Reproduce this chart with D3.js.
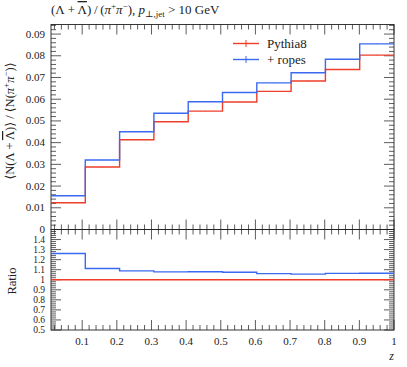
<!DOCTYPE html>
<html><head><meta charset="utf-8">
<script src="https://cdn.jsdelivr.net/npm/d3@7"></script>
<style>
body{margin:0;background:#fff;}
svg{display:block;font-family:"Liberation Serif","DejaVu Serif",serif;}
.ol{text-decoration:overline;}
</style></head>
<body>
<script>
// ---- data ----
const binEdges = [0.01,0.109,0.208,0.307,0.406,0.505,0.604,0.703,0.802,0.901,1.0];
const pythia8 = [0.01234,0.02877,0.04135,0.0496,0.0545,0.0587,0.0636,0.0684,0.0737,0.0803];
const ropes   = [0.01556,0.0320,0.0450,0.0535,0.0588,0.0631,0.0675,0.0722,0.0784,0.0855];
const pythia8Err = [0.00008,0.0001,0.0001,0.0001,0.0001,0.0001,0.0001,0.0001,0.0001,0.0001];
const ropesErr   = [0.00008,0.0001,0.0001,0.0001,0.0001,0.0001,0.0001,0.0001,0.0001,0.0001];
const seriesNames = ["Pythia8","+ ropes"];
const xTicks = [0.1,0.2,0.3,0.4,0.5,0.6,0.7,0.8,0.9,1];
const yTicks = [0,0.01,0.02,0.03,0.04,0.05,0.06,0.07,0.08,0.09];
const rTicks = [0.5,0.6,0.7,0.8,0.9,1,1.1,1.2,1.3,1.4];

const W=407,H=367;
const L=51,R=394,T=24.5,M=229.5,B=330;
const colors=["#EE3E2A","#3A6AF0"];

const svg=d3.select("body").append("svg").attr("width",W).attr("height",H);

const x=d3.scaleLinear().domain([0.01,1]).range([L,R]);
const y=d3.scaleLinear().domain([0,0.0944]).range([M,T]);
const yr=d3.scaleLinear().domain([0.5,1.5]).range([B,M]);

const ratioP = pythia8.map((v,i)=>v/pythia8[i]);
const ratioR = ropes.map((v,i)=>v/pythia8[i]);

function stepPath(vals,ys){
  let p="";
  vals.forEach((v,i)=>{
    const x0=x(binEdges[i]),x1=x(binEdges[i+1]),yy=ys(v);
    p+=(i===0?"M":"L")+x0+","+yy+"L"+x1+","+yy;
  });
  return p;
}

const tickCol="#333";
function xTicksAt(yPos,dir){
  const g=svg.append("g");
  for(let k=1;k<=50;k++){
    const v=k*0.02; if(v<0.01-1e-9||v>1+1e-9) continue;
    const major=(k%5===0);
    const len=major?10:5;
    g.append("line").attr("x1",x(v)).attr("x2",x(v)).attr("y1",yPos).attr("y2",yPos+dir*len)
      .attr("stroke",tickCol).attr("stroke-width",0.8);
  }
}
function yTicksAt(sc,lo,hi,majorStep,minorStep,xPos,dir){
  const g=svg.append("g");
  const n=Math.round((hi-lo)/minorStep);
  const per=Math.round(majorStep/minorStep);
  for(let k=0;k<=n;k++){
    const v=lo+k*minorStep;
    if(sc(v)<Math.min(...sc.range())-0.01||sc(v)>Math.max(...sc.range())+0.01) continue;
    const major=(k%per===0);
    const len=major?10:5;
    g.append("line").attr("x1",xPos).attr("x2",xPos+dir*len).attr("y1",sc(v)).attr("y2",sc(v))
      .attr("stroke",tickCol).attr("stroke-width",0.8);
  }
}

xTicksAt(T,1); xTicksAt(M,-1);
yTicksAt(y,0,0.094,0.01,0.002,L,1);
yTicksAt(y,0,0.094,0.01,0.002,R,-1);
xTicksAt(M,1); xTicksAt(B,-1);
yTicksAt(yr,0.5,1.5,0.1,0.02,L,1);
yTicksAt(yr,0.5,1.5,0.1,0.02,R,-1);

svg.append("rect").attr("x",L).attr("y",T).attr("width",R-L).attr("height",M-T)
  .attr("fill","none").attr("stroke","#222").attr("stroke-width",0.9);
svg.append("rect").attr("x",L).attr("y",M).attr("width",R-L).attr("height",B-M)
  .attr("fill","none").attr("stroke","#222").attr("stroke-width",0.9);

const fs=11;
svg.append("g").selectAll("text").data(yTicks).join("text")
  .attr("x",L-6).attr("y",d=>y(d)+3.5).attr("text-anchor","end").attr("font-size",fs)
  .attr("fill","#222").text(d=>d===0?"0":d.toFixed(2));
svg.append("g").selectAll("text").data(rTicks).join("text")
  .attr("x",L-6).attr("y",d=>yr(d)+3).attr("text-anchor","end").attr("font-size",9.5)
  .attr("fill","#222").text(d=>String(d));
svg.append("g").selectAll("text").data(xTicks).join("text")
  .attr("x",d=>x(d)).attr("y",B+15).attr("text-anchor","middle").attr("font-size",fs)
  .attr("fill","#222").text(d=>String(d));

const allSeries=[{v:pythia8,e:pythia8Err,r:ratioP,c:colors[0]},{v:ropes,e:ropesErr,r:ratioR,c:colors[1]}];
allSeries.forEach(s=>{
  svg.append("path").attr("d",stepPath(s.v,y)).attr("fill","none").attr("stroke",s.c).attr("stroke-width",1.4);
  s.v.forEach((v,i)=>{
    const xc=x((binEdges[i]+binEdges[i+1])/2);
    svg.append("line").attr("x1",xc).attr("x2",xc).attr("y1",y(v-s.e[i])).attr("y2",y(v+s.e[i]))
      .attr("stroke",s.c).attr("stroke-width",1);
  });
  svg.append("path").attr("d",stepPath(s.r,yr)).attr("fill","none").attr("stroke",s.c).attr("stroke-width",1.4);
});

seriesNames.forEach((n,i)=>{
  const ly=43.5+i*16;
  svg.append("line").attr("x1",233).attr("x2",259).attr("y1",ly).attr("y2",ly).attr("stroke",colors[i]).attr("stroke-width",1.4);
  svg.append("line").attr("x1",246).attr("x2",246).attr("y1",ly-3.5).attr("y2",ly+3.5).attr("stroke",colors[i]).attr("stroke-width",1);
  svg.append("text").attr("x",267).attr("y",ly+4.5).attr("font-size",13).attr("fill","#222").text(n);
});

// title
const t=svg.append("text").attr("x",L).attr("y",14).attr("font-size",13).attr("fill","#222");
t.append("tspan").text("(\u039B + ");
t.append("tspan").attr("class","ol").text("\u039B");
t.append("tspan").text(")\u2009/\u2009(");
t.append("tspan").attr("font-style","italic").text("\u03C0");
t.append("tspan").attr("font-size",9).attr("dy",-5).text("+");
t.append("tspan").attr("font-style","italic").attr("dy",5).text("\u03C0");
t.append("tspan").attr("font-size",9).attr("dy",-5).text("\u2212");
t.append("tspan").attr("dy",5).text("), ");
t.append("tspan").attr("font-style","italic").text("p");
t.append("tspan").attr("font-size",9).attr("dy",3).text("\u22A5,jet");
t.append("tspan").attr("dy",-3).text(" > 10 GeV");

const yl=svg.append("text").attr("transform","translate(14,121) rotate(-90)").attr("text-anchor","middle")
  .attr("font-size",12.5).attr("fill","#222");
yl.append("tspan").text("\u27E8N(\u039B + ");
yl.append("tspan").attr("class","ol").text("\u039B");
yl.append("tspan").text(")\u27E9 / \u27E8N(");
yl.append("tspan").attr("font-style","italic").text("\u03C0");
yl.append("tspan").attr("font-size",9).attr("dy",-5).text("+");
yl.append("tspan").attr("font-style","italic").attr("dy",5).text("\u03C0");
yl.append("tspan").attr("font-size",9).attr("dy",-5).text("\u2212");
yl.append("tspan").attr("dy",5).text(")\u27E9");

svg.append("text").attr("transform","translate(16,281) rotate(-90)").attr("text-anchor","middle")
  .attr("font-size",12.5).attr("fill","#222").text("Ratio");
svg.append("text").attr("x",R).attr("y",360).attr("text-anchor","end").attr("font-size",12)
  .attr("font-style","italic").attr("fill","#222").text("z");
</script>
</body></html>
